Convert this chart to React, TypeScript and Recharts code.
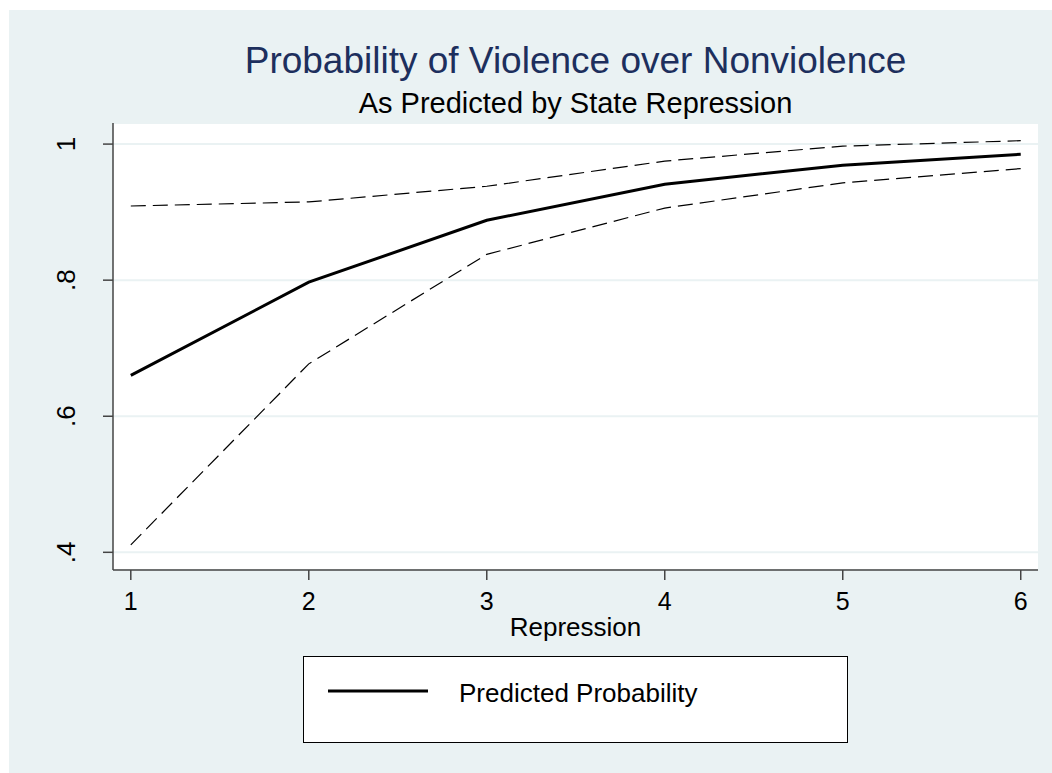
import React from 'react';
import { LineChart, Line, XAxis, YAxis, CartesianGrid, Legend, Label } from 'recharts';

const repression = [1, 2, 3, 4, 5, 6];
const predicted = [0.66, 0.797, 0.888, 0.941, 0.969, 0.985];
const upperCI = [0.909, 0.915, 0.938, 0.975, 0.997, 1.005];
const lowerCI = [0.411, 0.677, 0.838, 0.906, 0.943, 0.964];
const yTicks = [0.4, 0.6, 0.8, 1];
const yTickLabels = ['.4', '.6', '.8', '1'];

const FONT = '"Liberation Sans", Arial, sans-serif';
const BG = '#EAF2F3';
const AXIS = '#444';

const data = repression.map((r, i) => ({
  x: r,
  predicted: predicted[i],
  upper: upperCI[i],
  lower: lowerCI[i],
}));

// y labels are turned to read upwards, like Stata's default
const YTick = ({ x, y, payload }: any) => {
  const idx = yTicks.indexOf(payload.value);
  const bx = x - 28;
  return (
    <text x={bx} y={y} transform={`rotate(-90, ${bx}, ${y})`} textAnchor="middle"
      fontSize={26} fontFamily={FONT} fill="#000">
      {idx >= 0 ? yTickLabels[idx] : payload.value}
    </text>
  );
};

const XTick = ({ x, y, payload }: any) => (
  <text x={x} y={y + 30} textAnchor="middle" fontSize={25} fontFamily={FONT} fill="#000">
    {payload.value}
  </text>
);

const LegendBox = ({ payload }: any) => {
  const items = (payload || []).filter((p: any) => p.type !== 'none');
  return (
    <div style={{
      boxSizing: 'border-box', width: 545, height: 87, border: '1px solid #000',
      background: '#fff', position: 'relative', fontFamily: FONT,
    }}>
      {items.map((p: any) => (
        <React.Fragment key={p.value}>
          <svg width={110} height={10} style={{ position: 'absolute', left: 22, top: 29 }}>
            <line x1={2} y1={5} x2={102} y2={5} stroke="#000" strokeWidth={3} />
          </svg>
          <span style={{
            position: 'absolute', left: 155, top: 23, fontSize: 26, lineHeight: '26px',
            color: '#000', whiteSpace: 'nowrap',
          }}>{p.value}</span>
        </React.Fragment>
      ))}
    </div>
  );
};

const App: React.FC = () => {
  return (
    <div style={{ position: 'fixed', left: 0, top: 0, width: 1052, height: 773, background: '#fff', overflow: 'hidden' }}>
      <div style={{ position: 'absolute', left: 9, top: 10, right: 0, bottom: 0, background: BG }} />
      <div style={{
        position: 'absolute', left: 113, width: 925, top: 42, textAlign: 'center',
        fontFamily: FONT, fontSize: 37, lineHeight: '37px', color: '#1d2f5d', whiteSpace: 'nowrap',
      }}>
        Probability of Violence over Nonviolence
      </div>
      <div style={{
        position: 'absolute', left: 113, width: 925, top: 88.5, textAlign: 'center',
        fontFamily: FONT, fontSize: 29, lineHeight: '29px', color: '#000', whiteSpace: 'nowrap',
      }}>
        As Predicted by State Repression
      </div>
      <div style={{ position: 'absolute', left: 0, top: 0 }}>
        <LineChart width={1052} height={773} data={data}
          margin={{ top: 123, right: 14, left: 53, bottom: 143 }}>
          <CartesianGrid vertical={false} stroke={BG} strokeWidth={2} fill="#fff" fillOpacity={1} />
          <XAxis type="number" dataKey="x" domain={[0.9, 6.097]} ticks={repression}
            allowDataOverflow height={60} tickSize={10} tickMargin={0}
            axisLine={{ stroke: AXIS, strokeWidth: 1.5 }} tickLine={{ stroke: AXIS, strokeWidth: 1.5 }}
            tick={<XTick />}>
            <Label content={({ viewBox }: any) => (
              <text x={viewBox.x + viewBox.width / 2} y={viewBox.y + 66} textAnchor="middle"
                fontSize={26} fontFamily={FONT} fill="#000">Repression</text>
            )} />
          </XAxis>
          <YAxis type="number" domain={[0.374, 1.031]} ticks={yTicks} allowDataOverflow
            width={60} tickSize={10} tickMargin={0}
            axisLine={{ stroke: AXIS, strokeWidth: 1.5 }} tickLine={{ stroke: AXIS, strokeWidth: 1.5 }}
            tick={<YTick />} />
          <Line type="linear" dataKey="upper" stroke="#000" strokeWidth={1.2} strokeDasharray="15 7"
            dot={false} activeDot={false} legendType="none" isAnimationActive={false} />
          <Line type="linear" dataKey="lower" stroke="#000" strokeWidth={1.2} strokeDasharray="15 7"
            dot={false} activeDot={false} legendType="none" isAnimationActive={false} />
          <Line type="linear" dataKey="predicted" name="Predicted Probability" stroke="#000" strokeWidth={3}
            dot={false} activeDot={false} isAnimationActive={false} />
          <Legend layout="horizontal" verticalAlign="middle" align="center" content={<LegendBox />}
            wrapperStyle={{ left: 303, top: 656, width: 545, height: 87, bottom: 'auto', right: 'auto' }} />
        </LineChart>
      </div>
    </div>
  );
};

export default App;
